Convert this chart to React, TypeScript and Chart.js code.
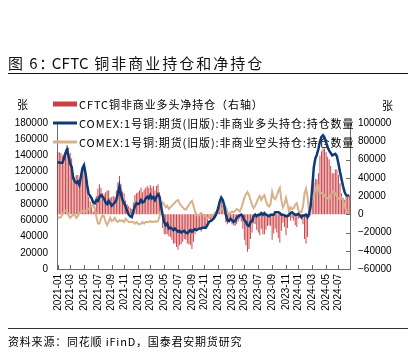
import React, { useEffect, useRef } from 'react';
import { Chart, registerables } from 'chart.js';

Chart.register(...registerables);

// Weekly data, first week 2021-01-05
const START_DATE = '2021-01-05';

const longPos = [
  132000, 131000, 131000, 131000, 136000, 143000, 147000, 139000, 130000, 126000,
  112000, 108000, 106000, 108000, 104000, 114000, 124000, 128000, 118000, 104000,
  93000, 90000, 87000, 82000, 81000, 85000, 84000, 89000, 91000, 89000,
  87000, 82000, 80000, 84000, 81000, 78000, 80000, 82000, 85000, 93000,
  102000, 92000, 85000, 81000, 77000, 71000, 67000, 65000, 64000, 71000,
  77000, 81000, 80000, 81000, 85000, 82000, 83000, 87000, 89000, 87000,
  91000, 87000, 89000, 85000, 89000, 92000, 89000, 77000, 67000, 58000,
  54000, 56000, 50000, 51000, 50000, 48000, 50000, 48000, 46000, 47000,
  45000, 46000, 47000, 45000, 44000, 46000, 48000, 46000, 48000, 49000,
  48000, 49000, 50000, 50000, 51000, 51000, 51000, 54000, 58000, 59000,
  60000, 62000, 65000, 69000, 75000, 83000, 88000, 85000, 78000, 67000,
  60000, 59000, 62000, 60000, 58000, 59000, 63000, 65000, 66000, 67000,
  65000, 60000, 58000, 54000, 53000, 58000, 59000, 65000, 67000, 65000,
  67000, 67000, 69000, 67000, 69000, 67000, 66000, 65000, 67000, 67000,
  67000, 70000, 70000, 70000, 69000, 67000, 67000, 66000, 65000, 65000,
  67000, 69000, 70000, 68000, 67000, 67000, 68000, 66000, 64000, 66000,
  66000, 67000, 64000, 68000, 78000, 100000, 125000, 136000, 141000, 148000,
  157000, 163000, 165000, 162000, 156000, 150000, 146000, 143000, 140000, 141000,
  142000, 139000, 130000, 120000, 111000, 102000, 95000, 91000, 90000, 91000,
];

const shortPos = [
  64000, 63000, 64000, 67000, 70000, 72000, 71000, 66000, 63000, 65000,
  67000, 67000, 63000, 65000, 69000, 70000, 71000, 73000, 71000, 73000,
  74000, 76000, 78000, 79000, 74000, 65000, 56000, 56000, 62000, 66000,
  65000, 58000, 54000, 58000, 63000, 59000, 60000, 63000, 59000, 58000,
  60000, 59000, 60000, 58000, 62000, 60000, 58000, 58000, 58000, 58000,
  56000, 58000, 56000, 55000, 56000, 58000, 56000, 58000, 58000, 58000,
  59000, 58000, 58000, 59000, 58000, 59000, 65000, 74000, 82000, 80000,
  76000, 78000, 74000, 76000, 78000, 80000, 82000, 84000, 85000, 81000,
  78000, 76000, 74000, 73000, 76000, 79000, 82000, 84000, 78000, 71000,
  67000, 65000, 67000, 69000, 67000, 66000, 65000, 63000, 63000, 65000,
  66000, 67000, 69000, 71000, 71000, 72000, 73000, 75000, 73000, 76000,
  71000, 67000, 69000, 71000, 70000, 72000, 74000, 73000, 71000, 75000,
  81000, 88000, 92000, 95000, 91000, 85000, 79000, 75000, 78000, 82000,
  87000, 90000, 85000, 89000, 91000, 84000, 79000, 77000, 80000, 95000,
  88000, 86000, 90000, 96000, 100000, 85000, 76000, 80000, 88000, 80000,
  70000, 76000, 74000, 75000, 79000, 81000, 73000, 70000, 70000, 77000,
  93000, 99000, 89000, 71000, 79000, 84000, 90000, 97000, 103000, 103000,
  93000, 94000, 93000, 90000, 88000, 87000, 86000, 90000, 95000, 96000,
  93000, 90000, 87000, 86000, 88000, 84000, 79000, 71000, 70000, 71000,
];

const netPos = [
  68000, 68000, 67000, 64000, 66000, 71000, 76000, 73000, 67000, 61000,
  45000, 41000, 43000, 43000, 35000, 44000, 53000, 55000, 47000, 31000,
  19000, 14000, 9000, 3000, 7000, 20000, 28000, 33000, 29000, 23000,
  22000, 24000, 26000, 26000, 18000, 19000, 20000, 19000, 26000, 35000,
  42000, 33000, 25000, 23000, 15000, 11000, 9000, 7000, 6000, 13000,
  21000, 23000, 24000, 26000, 29000, 24000, 27000, 29000, 31000, 29000,
  32000, 29000, 31000, 26000, 31000, 33000, 24000, 3000, -15000, -22000,
  -22000, -22000, -24000, -25000, -28000, -32000, -32000, -36000, -39000, -34000,
  -33000, -30000, -27000, -28000, -32000, -33000, -34000, -38000, -30000, -22000,
  -19000, -16000, -17000, -19000, -16000, -15000, -14000, -9000, -5000, -6000,
  -6000, -5000, -4000, -2000, 4000, 11000, 15000, 10000, 5000, -9000,
  -11000, -8000, -7000, -11000, -12000, -13000, -11000, -8000, -5000, -8000,
  -16000, -28000, -34000, -41000, -38000, -27000, -20000, -10000, -11000, -17000,
  -20000, -23000, -16000, -22000, -22000, -17000, -13000, -12000, -13000, -28000,
  -21000, -16000, -20000, -26000, -31000, -18000, -9000, -14000, -23000, -15000,
  -3000, -7000, -4000, -7000, -12000, -14000, -5000, -4000, -6000, -11000,
  -27000, -32000, -25000, -3000, -1000, 16000, 35000, 39000, 38000, 45000,
  64000, 69000, 72000, 72000, 68000, 63000, 60000, 53000, 45000, 45000,
  49000, 49000, 43000, 34000, 23000, 18000, 16000, 20000, 20000, 20000,
];

const seriesNames = [
  'CFTC铜非商业多头净持仓（右轴）',
  'COMEX:1号铜:期货(旧版):非商业多头持仓:持仓数量',
  'COMEX:1号铜:期货(旧版):非商业空头持仓:持仓数量',
];

const leftTicks = { min: 0, max: 180000, step: 20000 };
const rightTicks = { min: -60000, max: 100000, step: 20000 };

const startMs = Date.parse(START_DATE + 'T00:00:00Z');
const weeks: string[] = longPos.map((_, i) =>
  new Date(startMs + i * 7 * 86400000).toISOString().slice(0, 10)
);

function isMarkWeek(i: number): boolean {
  const ym = weeks[i].slice(0, 7);
  const prev = i > 0 ? weeks[i - 1].slice(0, 7) : '';
  const month = parseInt(weeks[i].slice(5, 7), 10);
  return ym !== prev && month % 2 === 1;
}

const BAR_COLOR = 'rgba(192, 30, 36, 0.85)';
const LONG_COLOR = '#0D3B78';
const SHORT_COLOR = '#D6B28C';
const AXIS_COLOR = '#6b6b6b';
const tickFont = { family: '"Liberation Sans", Arial, sans-serif', size: 10 };

const fmt = (v: number) => (v < 0 ? '\u2212' + String(-v) : String(v));

const decorPlugin = {
  id: 'decor',
  beforeDatasetsDraw(chart: any) {
    const ctx = chart.ctx;
    const ds = chart.data.datasets;
    const rows = [104, 123, 142];
    ctx.save();
    ctx.font = '11px "Noto Sans CJK SC", sans-serif';
    (ctx as any).letterSpacing = '0.9px';
    ctx.textBaseline = 'middle';
    ds.forEach((d: any, i: number) => {
      const y = rows[i];
      if (d.type === 'bar') {
        ctx.fillStyle = BAR_COLOR;
        ctx.fillRect(53, y - 2.5, 24, 5);
      } else {
        ctx.strokeStyle = d.borderColor;
        ctx.lineWidth = 3;
        ctx.beginPath();
        ctx.moveTo(53, y);
        ctx.lineTo(77, y);
        ctx.stroke();
      }
      ctx.fillStyle = '#000';
      ctx.fillText(d.label, 79, y + 0.5);
    });
    ctx.restore();
  },
  afterDraw(chart: any) {
    const { ctx, chartArea, scales } = chart;
    ctx.save();
    ctx.strokeStyle = AXIS_COLOR;
    ctx.lineWidth = 1;
    ctx.beginPath();
    scales.x.ticks.forEach((_: any, i: number) => {
      const px = Math.round(scales.x.getPixelForTick(i)) + 0.5;
      ctx.moveTo(px, chartArea.bottom);
      ctx.lineTo(px, chartArea.bottom - 4);
    });
    scales.y1.ticks.forEach((_: any, i: number) => {
      const py = Math.round(scales.y1.getPixelForTick(i)) + 0.5;
      ctx.moveTo(chartArea.right, py);
      ctx.lineTo(chartArea.right - 4, py);
    });
    ctx.stroke();
    ctx.restore();
  },
};

export default function App() {
  const ref = useRef<HTMLCanvasElement>(null);

  useEffect(() => {
    if (!ref.current) return;
    const chart = new Chart(ref.current, {
      type: 'bar',
      data: {
        labels: weeks,
        datasets: [
          {
            type: 'bar',
            label: seriesNames[0],
            data: netPos,
            yAxisID: 'y1',
            backgroundColor: BAR_COLOR,
            barPercentage: 0.62,
            categoryPercentage: 1,
            order: 3,
          },
          {
            type: 'line',
            label: seriesNames[1],
            data: longPos,
            yAxisID: 'y',
            borderColor: LONG_COLOR,
            borderWidth: 2.5,
            pointRadius: 0,
            tension: 0,
            order: 1,
          },
          {
            type: 'line',
            label: seriesNames[2],
            data: shortPos,
            yAxisID: 'y',
            borderColor: SHORT_COLOR,
            borderWidth: 2,
            pointRadius: 0,
            tension: 0,
            order: 2,
          },
        ] as any,
      },
      options: {
        responsive: false,
        animation: false,
        devicePixelRatio: 1,
        layout: { padding: { top: 123, left: 0, right: 0, bottom: 0 } },
        plugins: { legend: { display: false }, tooltip: { enabled: false } },
        scales: {
          x: {
            offset: true,
            grid: { display: false, drawTicks: false },
            border: { display: true, color: AXIS_COLOR },
            ticks: {
              autoSkip: false,
              minRotation: 90,
              maxRotation: 90,
              padding: 5,
              color: '#000',
              font: tickFont,
              callback: function (this: any, v: any) {
                return this.getLabelForValue(v).slice(0, 7);
              },
            },
            afterBuildTicks: (scale: any) => {
              scale.ticks = scale.ticks.filter((t: any) => isMarkWeek(t.value));
            },
            afterFit: (scale: any) => {
              scale.height = 86;
            },
          },
          y: {
            position: 'left',
            min: leftTicks.min,
            max: leftTicks.max,
            grid: { display: false, drawTicks: false },
            border: { display: true, color: AXIS_COLOR },
            ticks: {
              stepSize: leftTicks.step,
              padding: 9,
              color: '#000',
              font: tickFont,
              callback: (v: any) => fmt(Number(v)),
            },
            afterFit: (scale: any) => {
              scale.width = 57;
            },
          },
          y1: {
            position: 'right',
            min: rightTicks.min,
            max: rightTicks.max,
            grid: { display: false, drawTicks: false },
            border: { display: true, color: AXIS_COLOR },
            ticks: {
              stepSize: rightTicks.step,
              padding: 8,
              color: '#000',
              font: tickFont,
              callback: (v: any) => fmt(Number(v)),
            },
            afterFit: (scale: any) => {
              scale.width = 58;
            },
          },
        },
      } as any,
      plugins: [decorPlugin],
    });
    return () => chart.destroy();
  }, []);

  const cjk = '"Noto Sans CJK SC", "Noto Sans", sans-serif';

  return (
    <div
      style={{
        position: 'fixed',
        left: 0,
        top: 0,
        width: 408,
        height: 355,
        background: '#fff',
        overflow: 'hidden',
        fontFamily: cjk,
        color: '#000',
      }}
    >
      <canvas
        ref={ref}
        width={408}
        height={355}
        style={{ position: 'absolute', left: 0, top: 0, width: 408, height: 355 }}
      />
      <div
        style={{
          position: 'absolute',
          left: 8,
          top: 54,
          fontSize: 15,
          lineHeight: '18px',
          whiteSpace: 'nowrap',
          color: '#111',
        }}
      >
        <span style={{ letterSpacing: '1.5px' }}>图 6：</span>
        <span style={{ letterSpacing: '0.3px', marginLeft: -4 }}>CFTC</span>
        <span style={{ letterSpacing: '2px' }}> 铜非商业持仓和净持仓</span>
      </div>
      <div style={{ position: 'absolute', left: 8, right: 0, top: 73, height: 1, background: '#111' }} />
      <div style={{ position: 'absolute', left: 17, top: 97, fontSize: 11, lineHeight: '14px' }}>张</div>
      <div style={{ position: 'absolute', left: 382, top: 98, fontSize: 11, lineHeight: '14px' }}>张</div>
      <div style={{ position: 'absolute', left: 8, right: 0, top: 328, height: 1, background: '#333' }} />
      <div
        style={{
          position: 'absolute',
          left: 8,
          top: 334,
          fontSize: 11,
          lineHeight: '14px',
          letterSpacing: '0.8px',
          whiteSpace: 'nowrap',
        }}
      >
        资料来源：同花顺 iFinD，国泰君安期货研究
      </div>
    </div>
  );
}
